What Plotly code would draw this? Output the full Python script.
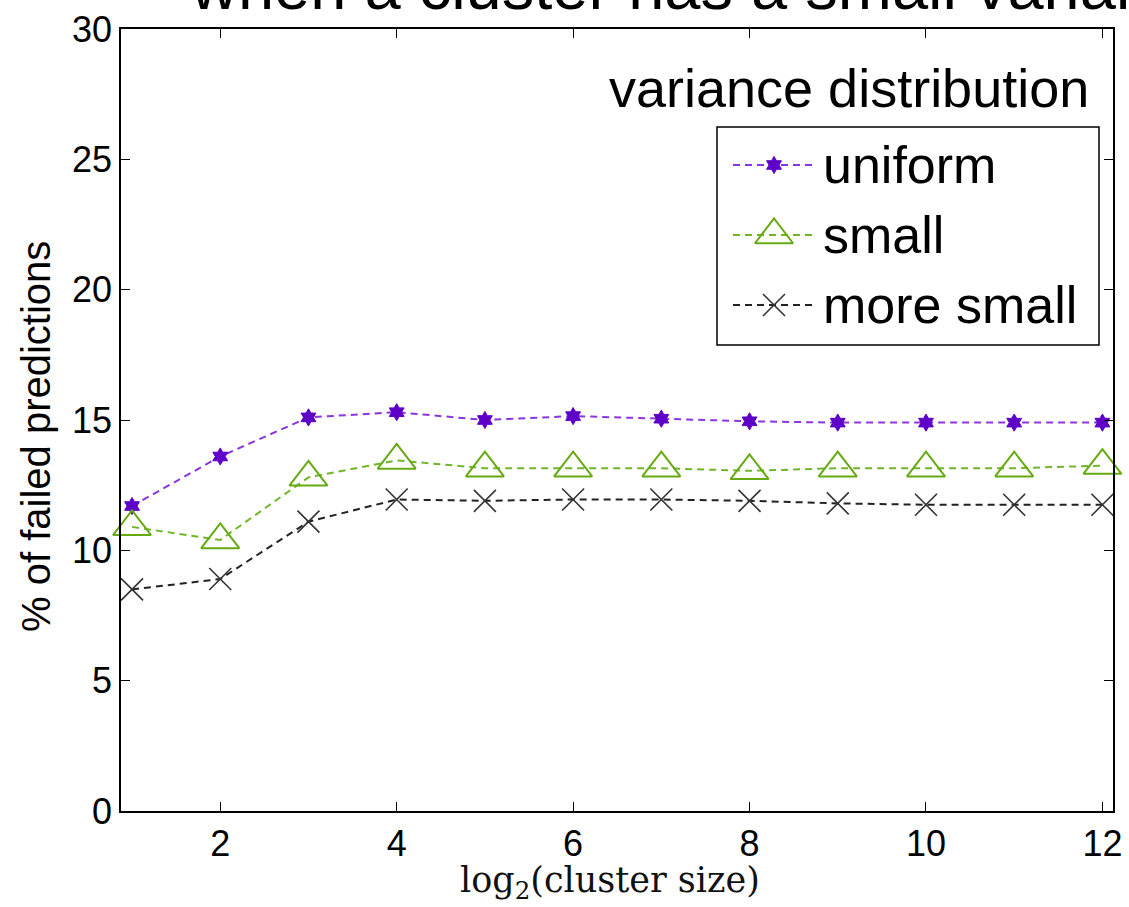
import plotly.graph_objects as go

# log2 of the cluster size
cluster_log2 = [1, 2, 3, 4, 5, 6, 7, 8, 9, 10, 11, 12]

# % of failed predictions per variance distribution
uniform = [11.7, 13.6, 15.1, 15.3, 15.0, 15.15, 15.05, 14.95, 14.9, 14.9, 14.9, 14.9]
small = [10.9, 10.4, 12.8, 13.45, 13.15, 13.15, 13.15, 13.05, 13.15, 13.15, 13.15, 13.25]
more_small = [8.5, 8.9, 11.1, 11.95, 11.9, 11.95, 11.95, 11.9, 11.8, 11.75, 11.75, 11.75]

series_names = ["uniform", "small", "more small"]
y_ticks = [0, 5, 10, 15, 20, 25, 30]
x_ticks = [2, 4, 6, 8, 10, 12]

W, H = 1129, 907
L, R, T, B = 121, 1113, 29, 811  # plot-area edges in pixels

def px(x):
    return (x - L) / (R - L)

def py(y):
    return (B - y) / (B - T)

SANS = "Arial, Liberation Sans, sans-serif"
styles = [
    dict(line=dict(color="#8A35E0", width=2, dash="7px,5px"),
         marker=dict(symbol="hexagram", size=13, color="#5E00C8",
                     line=dict(color="#5E00C8", width=1))),
    dict(line=dict(color="#72B52A", width=2, dash="7px,5px"),
         marker=dict(symbol="triangle-up-open", size=33, color="#66AA11",
                     line=dict(color="#66AA11", width=2))),
    dict(line=dict(color="#222222", width=2, dash="7px,5px"),
         marker=dict(symbol="x-thin-open", size=22, color="#333333",
                     line=dict(color="#333333", width=1.6))),
]

fig = go.Figure()
for name, vals, st in zip(series_names, [uniform, small, more_small], styles):
    fig.add_trace(go.Scatter(x=cluster_log2, y=vals, mode="lines+markers",
                             name=name, showlegend=False, cliponaxis=False, **st))

# hand-built legend: sample line with marker, then label
legend_rows = [165, 235, 305]
for name, ycen, st in zip(series_names, legend_rows, styles):
    fig.add_trace(go.Scatter(x=[px(733), px(815)], y=[py(ycen)] * 2, mode="lines",
                             line=st["line"], xaxis="x2", yaxis="y2",
                             showlegend=False, hoverinfo="skip"))
    fig.add_trace(go.Scatter(x=[px(774)], y=[py(ycen)], mode="markers",
                             marker=st["marker"], xaxis="x2", yaxis="y2",
                             showlegend=False, hoverinfo="skip"))

annotations = []
for name, ycen in zip(series_names, legend_rows):
    annotations.append(dict(text=name, x=px(821), y=py(ycen), xref="paper", yref="paper",
                            xanchor="left", yanchor="middle", showarrow=False,
                            font=dict(family=SANS, size=52, color="black")))

annotations += [
    dict(text="variance distribution", x=px(1091), y=py(88), xref="paper", yref="paper",
         xanchor="right", yanchor="middle", showarrow=False,
         font=dict(family=SANS, size=54, color="black")),
    dict(text="% of failed predictions", x=px(36), y=py(437), xref="paper", yref="paper",
         xanchor="center", yanchor="middle", textangle=-90, showarrow=False,
         font=dict(family=SANS, size=40, color="black")),
    dict(text="log<sub>2</sub>(cluster size)", x=px(610), y=py(882), xref="paper", yref="paper",
         xanchor="center", yanchor="middle", showarrow=False,
         font=dict(family="DejaVu Serif, Liberation Serif, serif", size=35, color="#111111")),
    dict(text="when a cluster has a small variance", x=px(188), y=py(25), xref="paper",
         yref="paper", xanchor="left", yanchor="bottom", showarrow=False,
         font=dict(family=SANS, size=65, color="black")),
]

axis_common = dict(showgrid=False, zeroline=False, showline=True, linecolor="black",
                   linewidth=1.5, mirror="ticks", ticks="inside", ticklen=9,
                   tickwidth=1.3, tickcolor="black",
                   tickfont=dict(family=SANS, size=36, color="black"))

fig.update_layout(
    width=W, height=H,
    margin=dict(l=L, r=W - R, t=T, b=H - B, autoexpand=False),
    paper_bgcolor="white", plot_bgcolor="white",
    xaxis=dict(range=[0.875, 12.12], tickvals=x_ticks, **axis_common),
    yaxis=dict(range=[0, 30], tickvals=y_ticks, **axis_common),
    xaxis2=dict(range=[0, 1], overlaying="x", visible=False, fixedrange=True),
    yaxis2=dict(range=[0, 1], overlaying="y", visible=False, fixedrange=True),
    shapes=[dict(type="rect", xref="paper", yref="paper",
                 x0=px(717), x1=px(1099), y0=py(345), y1=py(127),
                 line=dict(color="black", width=1.5), fillcolor="rgba(0,0,0,0)")],
    annotations=annotations,
    showlegend=False,
)

fig.write_html("out.html")
